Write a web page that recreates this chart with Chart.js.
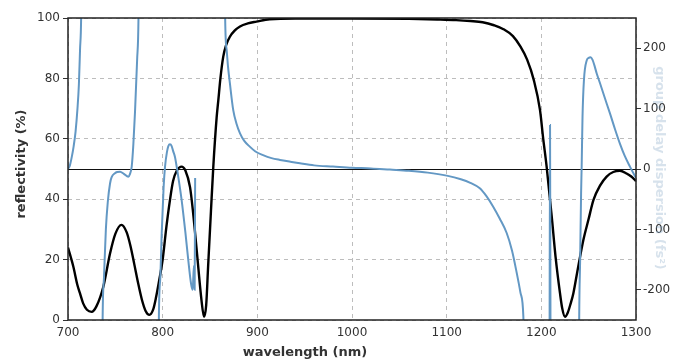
<!DOCTYPE html>
<html>
<head>
<meta charset="utf-8">
<script src="https://cdn.jsdelivr.net/npm/chart.js@4/dist/chart.umd.min.js"></script>
<style>
  html, body { margin: 0; background: #fff; }
</style>
</head>
<body>
<canvas id="chart" width="682" height="363"></canvas>
<script>
// --- data ---
const xTicks = [700, 800, 900, 1000, 1100, 1200, 1300]
const leftTicks = [0, 20, 40, 60, 80, 100]
const rightTicks = [-200, -100, 0, 100, 200]

// reflectivity (%), left axis
const reflWl = [700, 705.6, 710, 712.7, 716, 720, 725, 730, 737.3, 744.4, 750, 756.5, 762, 766, 770, 774, 778, 782, 786,
  790, 793, 797, 800, 804, 807.7, 811, 815, 820, 824, 828.9, 832, 836, 841, 843.7, 846, 848, 851, 853.5, 857, 858.8, 861,
  864, 867, 871, 876, 881.7, 890, 899, 913, 940, 1000, 1060, 1090, 1110, 1125, 1138, 1150, 1160, 1170, 1178, 1185, 1192,
  1198.6, 1202, 1205.6, 1211, 1215, 1219.7, 1222, 1225, 1228, 1231, 1233.8, 1238, 1244.4, 1250, 1255, 1262, 1269,
  1276, 1283, 1290, 1295, 1300]
const reflVal = [24, 17.7, 11.5, 8.8, 5.5, 3.4, 2.7, 4.5, 11, 22, 28.5, 31.5, 29, 24.5, 18.5, 12.3, 6.8, 3, 1.7,
  3.5, 7.5, 14.3, 20, 31, 39.7, 46, 49.5, 50.8, 49.5, 44, 36, 23, 6.6, 1.1, 5, 17.7, 36, 50.8, 67, 72.8, 80,
  87.2, 91, 93.8, 95.8, 97.2, 98.2, 98.8, 99.6, 99.8, 99.8, 99.7, 99.5, 99.3, 99, 98.6, 97.6, 96.3, 94, 90.5, 86.2, 79.5,
  69.5, 60, 50.8, 34.2, 21, 8.9, 4, 1.1, 2.5, 5.5, 8.8, 16, 26.5, 33.5, 39.7, 44.5, 47.5,
  49, 49.4, 48.5, 47.5, 46]

// group delay dispersion (fs^2), right axis; null = break between branches
const gddWl = [700, 702, 704, 706, 708, 710, 711.5, 712.7, 714, 714.6, 716,
  736, 736.6, 738, 740, 742, 744.4, 746, 749.6, 752, 755, 759, 763.7, 765.5, 767.3, 769, 770.8, 773, 774.5, 775.2, 778,
  795.5, 796, 797.5, 799, 801, 802.5, 804.5, 806, 807.7, 809.5, 811, 813, 816, 820, 824, 827, 830, 831.7, 833, 833.8, 834.3, 835,
  865.5, 866, 867.6, 869, 871, 874.6, 878, 881.7, 886, 892, 898, 906, 915, 924, 935, 945, 960, 980, 1000, 1020, 1040,
  1060, 1080, 1100, 1115, 1125, 1135, 1142, 1149, 1156, 1163.4, 1169, 1174, 1178, 1181, 1183, 1190,
  1208.6, 1209.2, 1209.8, 1212,
  1239.5, 1240, 1241, 1242, 1242.6, 1243.5, 1245, 1248, 1250, 1252, 1254, 1256, 1258.5, 1262, 1267, 1272.5, 1278, 1283,
  1288, 1293.6, 1300]
const gddVal = [0, 6, 20, 38, 62, 100, 140, 197, 265, 400, null,
  -400, -246, -180, -100, -55, -24, -14, -7, -5, -4.4, -8, -12.7, -8, 4, 40, 95, 180, 255, 400, null,
  -400, -246, -180, -106, -30, 4, 28, 38, 41, 38, 30, 20, -8, -51, -105, -150, -190, -200, -160, -200, -15, null,
  400, 252, 197, 170, 142, 97, 75, 59, 47, 37, 29, 23, 18, 15, 12, 9.4, 6, 4, 2, 1, -1,
  -3, -6, -11, -17, -23, -32, -45, -62, -82, -106, -135, -172, -205, -244, -400, null,
  -400, 73, -400, null,
  -400, -246, -150, -40, 4, 86, 147, 180, 184, 185, 181, 172, 158, 142, 118, 92, 65, 42,
  22, 4, -15]

const pts = (xs, ys) => xs.map((x, i) => ({ x, y: ys[i] }))

const FONT = "'DejaVu Sans', Verdana, sans-serif"
const TXT = '#333'

// frame, zero line and axis titles
const decor = {
  id: 'decor',
  beforeDatasetsDraw(chart) {
    const { ctx, chartArea: a, scales } = chart
    const y0 = Math.round(scales.y1.getPixelForValue(0)) + 0.5
    ctx.save()
    ctx.strokeStyle = '#111'
    ctx.lineWidth = 1.2
    ctx.beginPath()
    ctx.moveTo(a.left, y0)
    ctx.lineTo(a.right, y0)
    ctx.stroke()
    ctx.restore()
  },
  afterDraw(chart) {
    const { ctx, chartArea: a } = chart
    ctx.save()
    ctx.strokeStyle = '#222'
    ctx.lineWidth = 1.5
    ctx.strokeRect(a.left, a.top, a.right - a.left, a.bottom - a.top)

    ctx.fillStyle = TXT
    ctx.font = `bold 13px ${FONT}`
    ctx.textAlign = 'center'
    ctx.textBaseline = 'middle'
    ctx.fillText('wavelength (nm)', 305, 353)

    ctx.save()
    ctx.translate(22, 164)
    ctx.rotate(-Math.PI / 2)
    ctx.fillText('reflectivity (%)', 0, 0)
    ctx.restore()

    // right title, very faint in the original
    ctx.save()
    ctx.translate(656, 168)
    ctx.rotate(Math.PI / 2)
    ctx.fillStyle = 'rgba(110,150,185,0.28)'
    ctx.textBaseline = 'alphabetic'
    ctx.fillText('group delay dispersion (fs²)', 0, 0)
    ctx.restore()
    ctx.restore()
  }
}

const plain = (v) => String(v)

new Chart(document.getElementById('chart'), {
  type: 'line',
  data: {
    datasets: [
      {
        label: 'GDD',
        data: pts(gddWl, gddVal),
        yAxisID: 'y1',
        borderColor: '#6398c4',
        borderWidth: 2,
        cubicInterpolationMode: 'monotone',
        spanGaps: false,
      },
      {
        label: 'reflectivity',
        data: pts(reflWl, reflVal),
        yAxisID: 'y',
        borderColor: '#000',
        borderWidth: 2.4,
        cubicInterpolationMode: 'monotone',
      },
    ],
  },
  options: {
    responsive: false,
    animation: false,
    layout: { padding: { top: 18 } },
    elements: { point: { radius: 0 } },
    plugins: { legend: { display: false }, tooltip: { enabled: false } },
    scales: {
      x: {
        type: 'linear',
        min: 700,
        max: 1300,
        afterBuildTicks: (s) => { s.ticks = xTicks.map((value) => ({ value })) },
        afterFit: (s) => { s.height = 43 },
        ticks: { color: TXT, font: { family: FONT, size: 12 }, padding: 6, callback: plain },
        grid: { color: '#bdbdbd', lineWidth: 1, drawTicks: false },
        border: { display: false, dash: [4, 4] },
      },
      y: {
        position: 'left',
        min: 0,
        max: 100,
        afterBuildTicks: (s) => { s.ticks = leftTicks.map((value) => ({ value })) },
        afterFit: (s) => { s.width = 68 },
        ticks: { color: TXT, font: { family: FONT, size: 12 }, padding: 3, callback: plain },
        grid: { color: '#bdbdbd', lineWidth: 1, tickLength: 5, tickColor: '#333' },
        border: { display: false, dash: [4, 4] },
      },
      y1: {
        position: 'right',
        min: -250,
        max: 250,
        afterBuildTicks: (s) => { s.ticks = rightTicks.map((value) => ({ value })) },
        afterFit: (s) => { s.width = 46 },
        ticks: { color: TXT, font: { family: FONT, size: 12 }, padding: 2, callback: plain },
        grid: { drawOnChartArea: false, tickLength: 5, tickColor: '#333' },
        border: { display: false },
      },
    },
  },
  plugins: [decor],
})
</script>
</body>
</html>
